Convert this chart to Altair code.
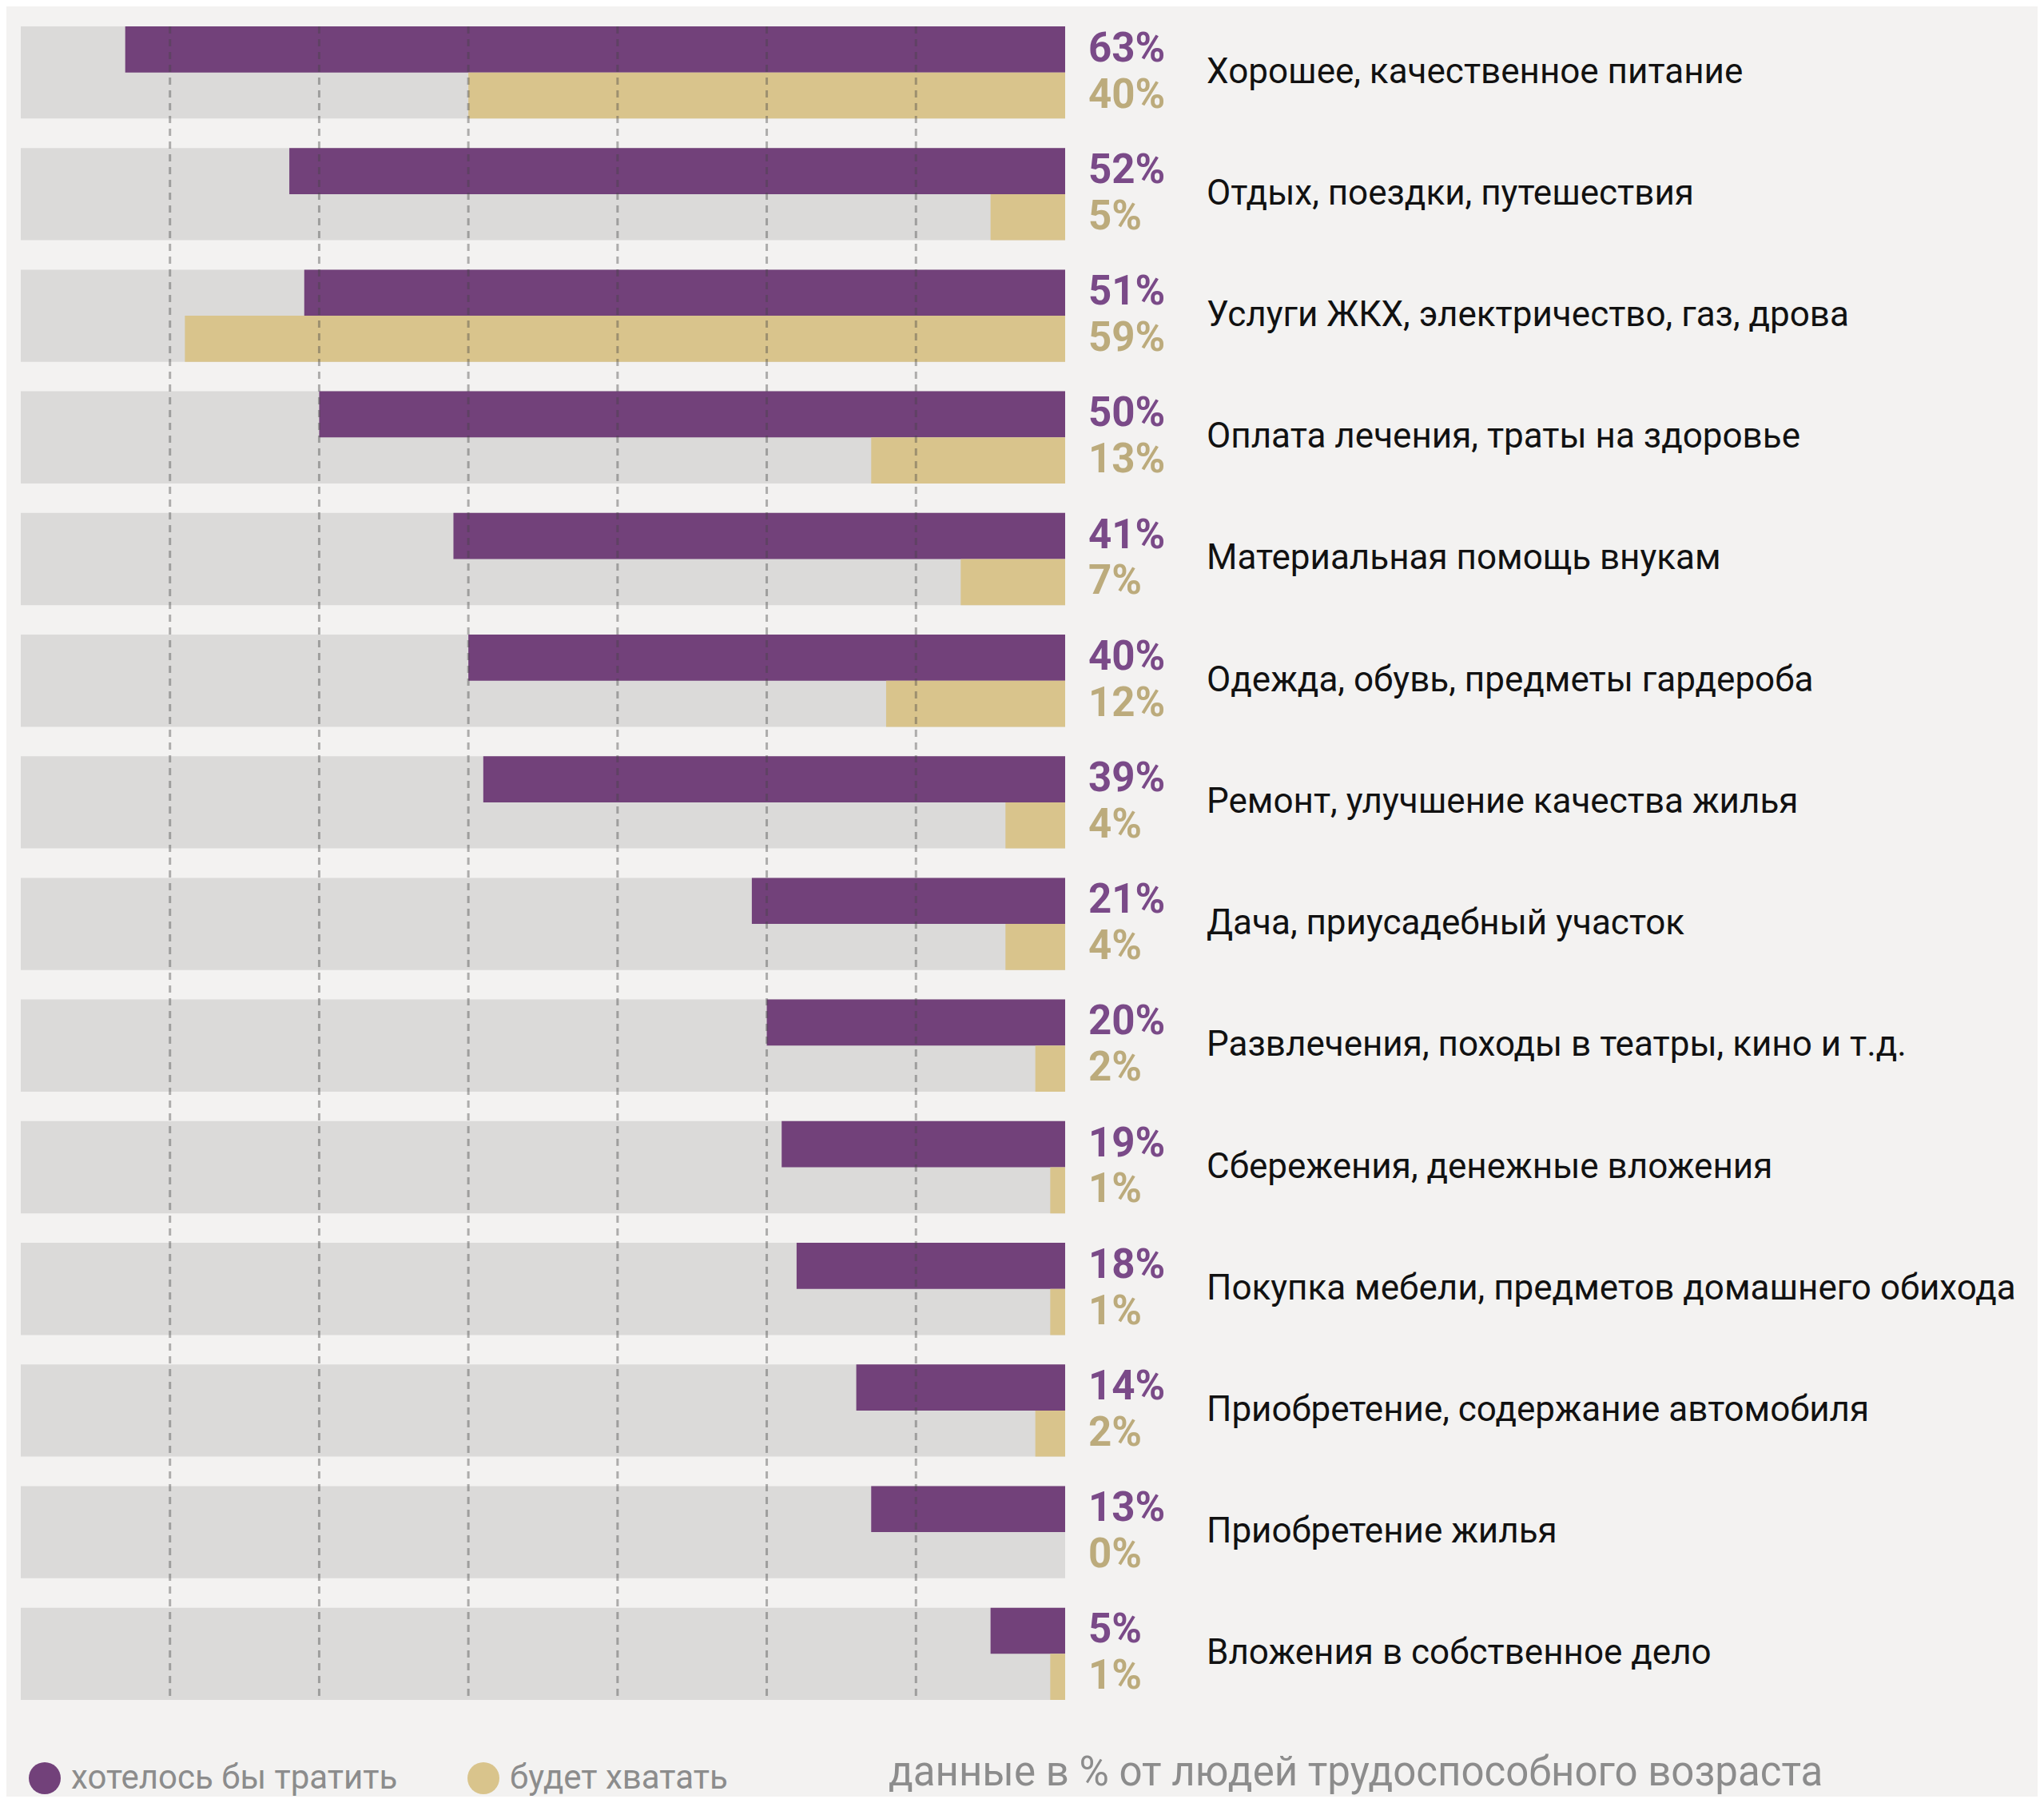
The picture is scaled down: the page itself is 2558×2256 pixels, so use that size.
import altair as alt
import pandas as pd

categories = [
    "Хорошее, качественное питание",
    "Отдых, поездки, путешествия",
    "Услуги ЖКХ, электричество, газ, дрова",
    "Оплата лечения, траты на здоровье",
    "Материальная помощь внукам",
    "Одежда, обувь, предметы гардероба",
    "Ремонт, улучшение качества жилья",
    "Дача, приусадебный участок",
    "Развлечения, походы в театры, кино и т.д.",
    "Сбережения, денежные вложения",
    "Покупка мебели, предметов домашнего обихода",
    "Приобретение, содержание автомобиля",
    "Приобретение жилья",
    "Вложения в собственное дело",
]
want_to_spend = [63, 52, 51, 50, 41, 40, 39, 21, 20, 19, 18, 14, 13, 5]
will_suffice = [40, 5, 59, 13, 7, 12, 4, 4, 2, 1, 1, 2, 0, 1]
series_names = ["хотелось бы тратить", "будет хватать"]
grid_values = [10, 20, 30, 40, 50, 60]
axis_max = 70
note_text = "данные в % от людей трудоспособного возраста"

PURPLE = "#72417a"
YELLOW = "#d9c48c"
PURPLE_TXT = "#7a4a88"
YELLOW_TXT = "#bcab7c"
GREY = "#dbdad9"
BG = "#f3f2f1"
FONT = "Roboto"

rows = []
for c, a, b in zip(categories, want_to_spend, will_suffice):
    rows.append({"cat": c, "series": series_names[0], "value": a, "label": f"{a}%"})
    rows.append({"cat": c, "series": series_names[1], "value": b, "label": f"{b}%"})
df = pd.DataFrame(rows)
cat_df = pd.DataFrame({"cat": categories, "full": [axis_max] * len(categories)})
grid_df = pd.DataFrame({"g": grid_values})

W, H = 2542, 2240
x_scale = alt.Scale(domain=[0, axis_max], range=[1325, 18], zero=False, nice=False)
y_scale = alt.Scale(domain=categories, range=[25, 2119], paddingInner=0.242, paddingOuter=0)
y_enc = alt.Y("cat:N", scale=y_scale, axis=None, sort=categories)
yoff = alt.YOffset("series:N", sort=series_names, scale=alt.Scale(domain=series_names, paddingInner=0, paddingOuter=0))

bg = alt.Chart(cat_df).mark_bar(color=GREY).encode(
    y=y_enc,
    x=alt.X("full:Q", scale=x_scale, axis=None),
    x2=alt.datum(0),
)

bars = alt.Chart(df).mark_bar().encode(
    y=y_enc,
    yOffset=yoff,
    x=alt.X("value:Q", scale=x_scale, axis=None),
    x2=alt.datum(0),
    color=alt.Color(
        "series:N",
        scale=alt.Scale(domain=series_names, range=[PURPLE, YELLOW]),
        legend=alt.Legend(
            orient="none", legendX=27, legendY=2196, direction="horizontal",
            title=None, symbolType="circle", symbolSize=1600, symbolStrokeWidth=0,
            labelFont=FONT, labelFontSize=42, labelColor="#8c8c8c",
            labelOffset=12, columnPadding=86, padding=0, labelLimit=1000,
        ),
    ),
)

grid = alt.Chart(grid_df).mark_rule(
    color="#444444", opacity=0.4, strokeWidth=3, strokeDash=[9, 7]
).encode(
    x=alt.X("g:Q", scale=x_scale, axis=None),
    y=alt.value(25),
    y2=alt.value(2119),
)

def value_text(name, color):
    return alt.Chart(df).transform_filter(
        alt.datum.series == name
    ).mark_text(
        align="left", baseline="middle", font=FONT, fontSize=51, fontWeight="bold", color=color
    ).encode(
        y=y_enc,
        yOffset=yoff,
        x=alt.value(1354),
        text="label:N",
    )

val1 = value_text(series_names[0], PURPLE_TXT)
val2 = value_text(series_names[1], YELLOW_TXT)

cat_text = alt.Chart(cat_df).mark_text(
    align="left", baseline="middle", font=FONT, fontSize=44, color="#111111"
).encode(
    y=y_enc,
    x=alt.value(1502),
    text="cat:N",
)

note = alt.Chart(pd.DataFrame({"t": [note_text]})).mark_text(
    align="left", baseline="alphabetic", font=FONT, fontSize=51, color="#8c8c8c"
).encode(
    x=alt.value(1104),
    y=alt.value(2226),
    text="t:N",
)

chart = alt.layer(bg, bars, grid, val1, val2, cat_text, note).properties(
    width=W, height=H, padding=0, autosize=alt.AutoSizeParams(type="none")
).configure(background=BG).configure_view(stroke=None)

chart.save("out.html", embed_options={"renderer": "svg", "actions": False})
